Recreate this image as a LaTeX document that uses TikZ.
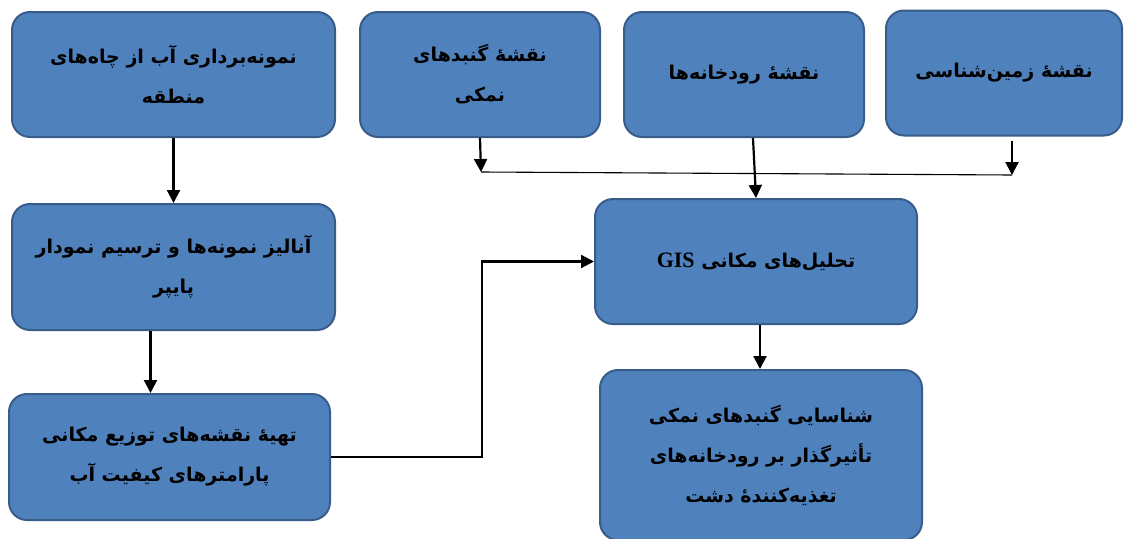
\documentclass[tikz,border=0pt]{standalone}
\usepackage{fontspec}
\usepackage{xcolor}
\usepackage{tikz}
\usetikzlibrary{calc,arrows.meta}
\TeXXeTstate=1
\newfontfamily\fa[Script=Arabic]{DejaVu Sans}
\newfontfamily\lat{Liberation Serif}
\definecolor{boxfill}{HTML}{4F81BD}
\definecolor{boxline}{HTML}{385D8A}
\tikzset{
  box/.style={draw=boxline, fill=boxfill, line width=2pt, rounded corners=18pt, align=center, inner sep=0pt, text=black, font=\fa\bfseries\fontsize{19}{40}\selectfont},
  arr/.style={draw=black, line width=2.2pt, -{Triangle[length=13pt,width=13pt]}},
  joinline/.style={draw=black, line width=1.1pt},
}

\begin{document}
\begin{tikzpicture}[x=1pt,y=-1pt]
  \useasboundingbox (0,0) rectangle (1124,538);
  % top row
  \node[box, minimum width=323pt, minimum height=125pt] (wells) at (173.5,74.5) {\beginR نمونه‌برداری آب از چاه‌های\endR\\\beginR منطقه\endR};
  \node[box, minimum width=240pt, minimum height=125pt] (salt) at (480,74.5) {\beginR نقشهٔ گنبدهای\endR\\\beginR نمکی\endR};
  \node[box, minimum width=240pt, minimum height=125pt] (rivers) at (744,74.5) {\beginR نقشهٔ رودخانه‌ها\endR};
  \node[box, minimum width=236pt, minimum height=125pt] (geo) at (1004,73) {\beginR نقشهٔ زمین‌شناسی\endR};
  % left column
  \node[box, minimum width=323pt, minimum height=126pt] (piper) at (173.5,267) {\beginR آنالیز نمونه‌ها و ترسیم نمودار\endR\\\beginR پایپر\endR};
  \node[box, minimum width=321pt, minimum height=126pt] (maps) at (169.5,457) {\beginR تهیهٔ نقشه‌های توزیع مکانی\endR\\\beginR پارامترهای کیفیت آب\endR};
  % right column
  \node[box, minimum width=322pt, minimum height=125pt] (gis) at (756,261.5) {\beginR تحلیل‌های مکانی \beginL{\lat\bfseries\fontsize{22}{40}\selectfont GIS}\endL\endR};
  \node[box, minimum width=322pt, minimum height=170pt] (result) at (761,455) {\beginR شناسایی گنبدهای نمکی\endR\\\beginR تأثیرگذار بر رودخانه‌های\endR\\\beginR تغذیه‌کنندهٔ دشت\endR};
  % connectors
  \coordinate (jl) at (481,172);
  \coordinate (jr) at (1012,175);
  \draw[joinline] (jl) -- (jr);
  \draw[arr] (salt.south) -- (jl);
  \draw[arr] ([yshift=-4pt]geo.south -| jr) -- (jr);
  \draw[arr] ([xshift=9pt]rivers.south) -- (gis.north);
  \draw[arr] (wells.south) -- (piper.north);
  \draw[arr] ([xshift=-23pt]piper.south) -- ([xshift=-23pt]piper.south |- maps.north);
  \draw[arr] (maps.east) -- ++(151,0) |- (gis.west);
  \draw[arr] ([xshift=4pt]gis.south) -- ([xshift=4pt]gis.south |- result.north);
\end{tikzpicture}
\end{document}
